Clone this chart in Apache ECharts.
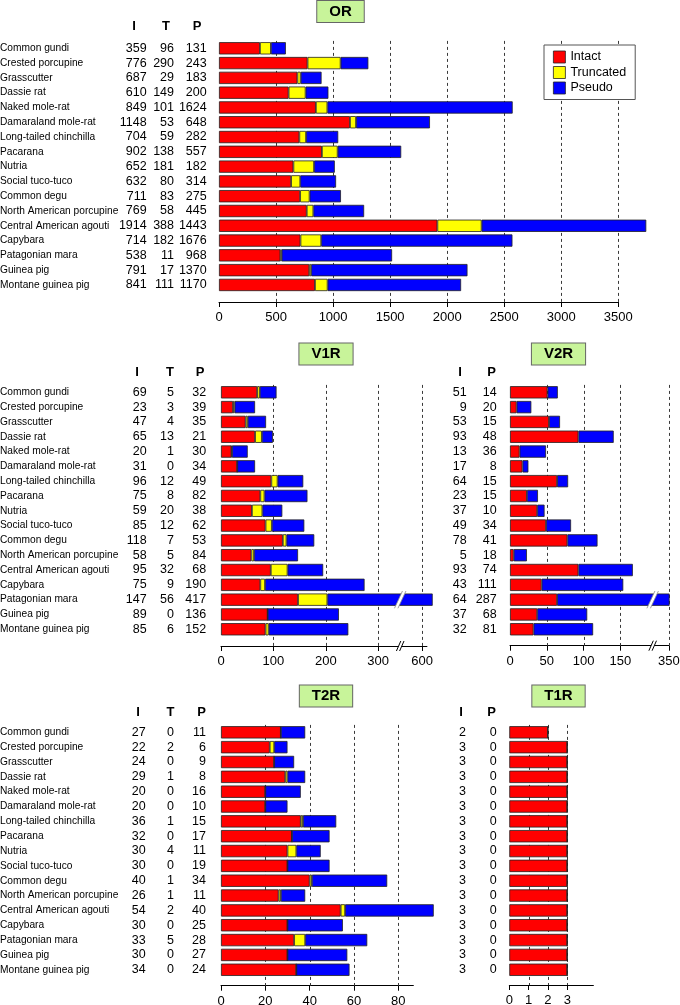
<!DOCTYPE html>
<html><head><meta charset="utf-8">
<script src="https://cdn.jsdelivr.net/npm/echarts@6/dist/echarts.min.js"></script>
<style>html,body{margin:0;padding:0;background:#fff}#c{width:680px;height:1005px}</style>
</head><body><div id="c"></div>
<script>
// ---------- DATA ----------
const species = ['Common gundi','Crested porcupine','Grasscutter','Dassie rat','Naked mole-rat','Damaraland mole-rat','Long-tailed chinchilla','Pacarana','Nutria','Social tuco-tuco','Common degu','North American porcupine','Central American agouti','Capybara','Patagonian mara','Guinea pig','Montane guinea pig'];

const OR_I = [359,776,687,610,849,1148,704,902,652,632,711,769,1914,714,538,791,841];
const OR_T = [96,290,29,149,101,53,59,138,181,80,83,58,388,182,11,17,111];
const OR_P = [131,243,183,200,1624,648,282,557,182,314,275,445,1443,1676,968,1370,1170];

const V1R_I = [69,23,47,65,20,31,96,75,59,85,118,58,95,75,147,89,85];
const V1R_T = [5,3,4,13,1,0,12,8,20,12,7,5,32,9,56,0,6];
const V1R_P = [32,39,35,21,30,34,49,82,38,62,53,84,68,190,417,136,152];

const V2R_I = [51,9,53,93,13,17,64,23,37,49,78,5,93,43,64,37,32];
const V2R_P = [14,20,15,48,36,8,15,15,10,34,41,18,74,111,287,68,81];

const T2R_I = [27,22,24,29,20,20,36,32,30,30,40,26,54,30,33,30,34];
const T2R_T = [0,2,0,1,0,0,1,0,4,0,1,1,2,0,5,0,0];
const T2R_P = [11,6,9,8,16,10,15,17,11,19,34,11,40,25,28,27,24];

const T1R_I = [2,3,3,3,3,3,3,3,3,3,3,3,3,3,3,3,3];
const T1R_P = [0,0,0,0,0,0,0,0,0,0,0,0,0,0,0,0,0];

const OR_TICKS  = [0,500,1000,1500,2000,2500,3000,3500];
const V1R_TICKS = [0,100,200,300,600];
const V2R_TICKS = [0,50,100,150,350];
const T2R_TICKS = [0,20,40,60,80];
const T1R_TICKS = [0,1,2,3];

const SERIES3 = ['Intact','Truncated','Pseudo'];
const SERIES2 = ['Intact','Pseudo'];

// ---------- STYLE / LAYOUT ----------
const COLORS = {Intact:'#ff0000', Truncated:'#ffff00', Pseudo:'#0000ff'};
const FONT = '"Liberation Sans", Arial, sans-serif';

function pickNameFont(){
  const c = document.createElement('canvas').getContext('2d');
  const s = 'North American porcupine', target = 112;
  c.font = '100px monospace'; const wMono = c.measureText(s).width;
  c.font = '100px "Liberation Sans", monospace'; const wLib = c.measureText(s).width;
  for (const fam of ['"Liberation Sans Narrow"','"Arial Narrow"']) {
    c.font = '100px ' + fam + ', monospace';
    const w = c.measureText(s).width;
    if (Math.abs(w - wMono) > 0.5 && Math.abs(w - wLib) > 0.5) return {family: fam + ', ' + FONT, size: Math.min(12.5, target / w * 100)};
  }
  return {family: FONT, size: 10.2};
}
const NF = pickNameFont();

const PANELS = [
  {title:'OR', tx:340.5, ty:11.5, cols:[OR_I,OR_T,OR_P], names:SERIES3, hdr:['I','T','P'], colRight:[146.7,174,206.7], hdrX:[134,166,197], hdrY:26.7, showNames:true,
   left:219, top:40.9, band:14.79, ppu:0.11409, axisEnd:3500, axisY:302, ticks:OR_TICKS, brk:null},
  {title:'V1R', tx:326, ty:354, cols:[V1R_I,V1R_T,V1R_P], names:SERIES3, hdr:['I','T','P'], colRight:[146.7,174,206.2], hdrX:[137,170,200], hdrY:372, showNames:true,
   left:221, top:384.9, band:14.81, ppu:0.524, axisEnd:609, axisY:646, ticks:V1R_TICKS, brk:{from:342, shift:216, row:14}},
  {title:'V2R', tx:558.5, ty:354, cols:[V2R_I,V2R_P], names:SERIES2, hdr:['I','P'], colRight:[466.7,496.7], hdrX:[460,491.7], hdrY:372, showNames:false,
   left:510, top:384.9, band:14.81, ppu:0.7355, axisEnd:350, axisY:645.7, ticks:V2R_TICKS, brk:{from:194, shift:134, row:14}},
  {title:'T2R', tx:326, ty:696, cols:[T2R_I,T2R_T,T2R_P], names:SERIES3, hdr:['I','T','P'], colRight:[145.7,174,206], hdrX:[138,170.5,201.5], hdrY:712, showNames:true,
   left:221, top:724.9, band:14.84, ppu:2.216, axisEnd:86.8, axisY:985.7, ticks:T2R_TICKS, brk:null},
  {title:'T1R', tx:558.5, ty:696, cols:[T1R_I,T1R_P], names:SERIES2, hdr:['I','P'], colRight:[466,496.7], hdrX:[461,491.7], hdrY:712, showNames:false,
   left:509.3, top:724.9, band:14.84, ppu:19.33, axisEnd:4.35, axisY:985, ticks:T1R_TICKS, brk:null}
];

function compress(v, brk){ return (brk && v > brk.from) ? v - brk.shift : v; }

const grid = [], xAxis = [], yAxis = [], series = [], graphic = [];

PANELS.forEach((p, pi) => {
  const n = species.length;
  const h = p.band * n;
  const dispMax = compress(p.axisEnd, p.brk);
  const width = dispMax * p.ppu;
  const offset = p.axisY - (p.top + h);
  grid.push({left:p.left, top:p.top, width:width, height:h, outerBoundsMode:'none', containLabel:false});

  const dTicks = p.ticks.map(t => compress(t, p.brk));
  const lab = {}; p.ticks.forEach((t,i) => { lab[dTicks[i].toFixed(4)] = String(t); });
  xAxis.push({
    type:'value', gridIndex:pi, min:0, max:dispMax, offset:offset,
    axisLine:{show:true, onZero:false, lineStyle:{color:'#000', width:1}},
    axisTick:{show:true, length:5, customValues:dTicks, lineStyle:{color:'#000', width:1}},
    axisLabel:{show:true, customValues:dTicks, margin:9, fontSize:13, color:'#000', fontFamily:FONT,
      formatter: v => lab[Number(v).toFixed(4)] ?? ''},
    splitLine:{show:false}
  });

  const mainY = yAxis.length;
  const catAxis = (extra) => Object.assign({
    type:'category', gridIndex:pi, data:species, inverse:true, position:'left',
    axisLine:{show:false}, axisTick:{show:false}, splitLine:{show:false}
  }, extra);
  yAxis.push(catAxis({axisLabel:{show:false}}));
  if (p.showNames) {
    yAxis.push(catAxis({axisLabel:{show:true, interval:0, align:'left', margin:p.left, fontSize:NF.size, fontFamily:NF.family, color:'#000'}}));
  }
  p.cols.forEach((arr, k) => {
    yAxis.push(catAxis({axisLabel:{show:true, interval:0, align:'right', margin:p.left - p.colRight[k], fontSize:12.5, fontFamily:FONT, color:'#000',
      formatter:(v, i) => String(arr[i])}}));
    graphic.push({type:'text', x:p.hdrX[k], y:p.hdrY, silent:true, style:{text:p.hdr[k], font:'bold 13px ' + FONT, fill:'#000', align:'center', verticalAlign:'middle'}});
  });

  // gridlines (dashed) from grid top down to the axis line
  series.push({
    type:'custom', xAxisIndex:pi, yAxisIndex:mainY, z:1, silent:true, clip:false,
    data: dTicks.filter(v => v > 0).map(v => [v, 0]),
    renderItem: (params, api) => {
      const cs = params.coordSys;
      const x = Math.round(api.coord([api.value(0), 0])[0]) + 0.5;
      return {type:'line', shape:{x1:x, y1:cs.y, x2:x, y2:cs.y + cs.height + offset}, style:{stroke:'#3a3a3a', lineWidth:1, lineDash:[3,3]}};
    }
  });

  // stacked bars (segment lengths in display units)
  const segs = p.cols.map(() => []);
  for (let r = 0; r < n; r++) {
    let cum = 0, prev = 0;
    p.cols.forEach((arr, k) => { cum += arr[r]; const d = compress(cum, p.brk); segs[k].push(d - prev); prev = d; });
  }
  p.names.forEach((nm, k) => {
    series.push({
      type:'bar', name:nm, xAxisIndex:pi, yAxisIndex:mainY, stack:'s' + pi, data:segs[k],
      barCategoryGap:'17%', clip:false, silent:true, z:2,
      itemStyle:{color:COLORS[nm], borderColor:'#222', borderWidth:0.8}
    });
  });

  // axis break marks
  if (p.brk) {
    series.push({
      type:'custom', xAxisIndex:pi, yAxisIndex:mainY, z:5, silent:true, clip:false,
      data:[[p.brk.from, p.brk.row]],
      renderItem: (params, api) => {
        const cs = params.coordSys;
        const pt = api.coord([api.value(0), api.value(1)]);
        const band = api.size([0, 1])[1];
        const hh = band * 0.83 / 2 + 2.5, dx = 4, w = 3.5;
        const x = pt[0], y = pt[1];
        const ay = cs.y + cs.height + offset;
        return {type:'group', children:[
          {type:'polygon', shape:{points:[[x-dx-w/2,y+hh],[x-dx+w/2,y+hh],[x+dx+w/2,y-hh],[x+dx-w/2,y-hh]]}, style:{fill:'#fff'}},
          {type:'line', shape:{x1:x-dx-w/2, y1:y+hh, x2:x+dx-w/2, y2:y-hh}, style:{stroke:'#888', lineWidth:0.8}},
          {type:'line', shape:{x1:x-dx+w/2, y1:y+hh, x2:x+dx+w/2, y2:y-hh}, style:{stroke:'#888', lineWidth:0.8}},
          {type:'rect', shape:{x:x-1.6, y:ay-1.5, width:3.2, height:3}, style:{fill:'#fff'}},
          {type:'line', shape:{x1:x-1.6-2.2, y1:ay+5, x2:x-1.6+2.2, y2:ay-5}, style:{stroke:'#000', lineWidth:1}},
          {type:'line', shape:{x1:x+1.6-2.2, y1:ay+5, x2:x+1.6+2.2, y2:ay-5}, style:{stroke:'#000', lineWidth:1}}
        ]};
      }
    });
  }

  // panel title box
  graphic.push({type:'text', x:p.tx, y:p.ty, silent:true, z:10, style:{
    text:p.title, font:'bold 15px ' + FONT, fill:'#000', align:'center', verticalAlign:'middle',
    backgroundColor:'#c8f49a', borderColor:'#666', borderWidth:1, padding:[3,12,3,12], lineHeight:15}});
});

const chart = echarts.init(document.getElementById('c'), null, {renderer:'canvas'});
chart.setOption({
  animation:false,
  backgroundColor:'#fff',
  textStyle:{fontFamily:FONT},
  grid, xAxis, yAxis, series, graphic,
  legend:{
    data:SERIES3, orient:'vertical', left:544, top:45, selectedMode:false,
    icon:'rect', itemWidth:12, itemHeight:12, itemGap:2.5, itemTextGap:6,
    padding:[5.5,9,5,9], backgroundColor:'#fff', borderColor:'#555', borderWidth:1, borderRadius:0,
    itemStyle:{borderColor:'#222', borderWidth:0.8},
    textStyle:{fontSize:12.5, color:'#000', fontFamily:FONT, lineHeight:12}
  }
});
</script></body></html>
